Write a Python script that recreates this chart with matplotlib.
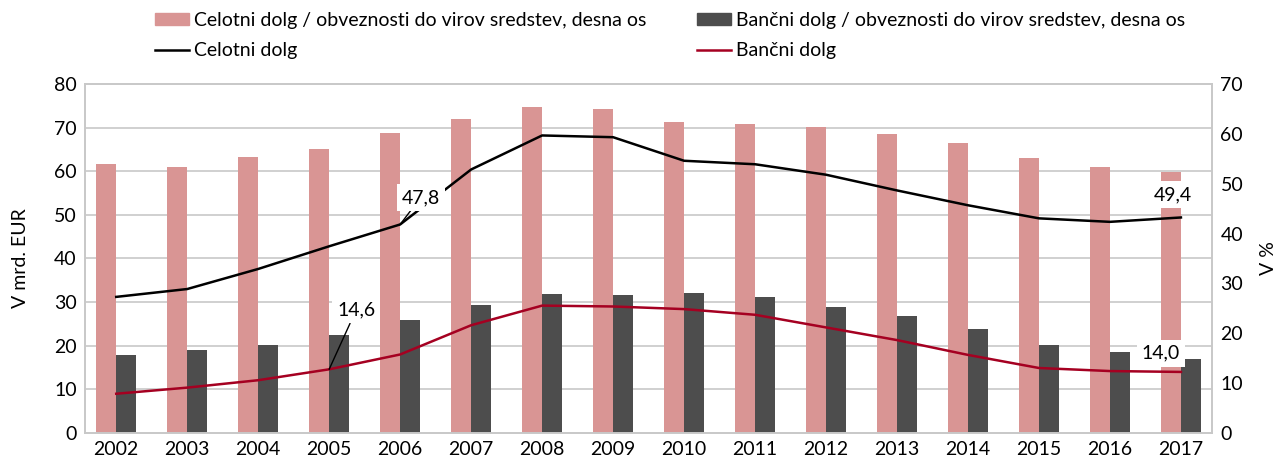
import numpy as np
import matplotlib
matplotlib.use("Agg")
import matplotlib.pyplot as plt
from matplotlib.patches import Patch
from matplotlib.lines import Line2D

plt.rcParams["font.family"] = ["Lato", "DejaVu Sans"]

years = [str(y) for y in range(2002, 2018)]

# ratios, right axis (%)
celotni_ratio = [54.0, 53.3, 55.4, 57.0, 60.2, 63.0, 65.3, 65.0, 62.3, 62.0, 61.3, 60.0, 58.2, 55.2, 53.3, 52.4]
bancni_ratio = [15.6, 16.6, 17.6, 19.7, 22.7, 25.7, 27.9, 27.7, 28.1, 27.3, 25.3, 23.5, 20.9, 17.6, 16.2, 14.8]

# debt levels, left axis (bn EUR)
celotni_dolg = [31.2, 33.0, 37.6, 42.8, 47.8, 60.4, 68.2, 67.8, 62.4, 61.6, 59.2, 55.6, 52.2, 49.2, 48.4, 49.4]
bancni_dolg = [9.0, 10.4, 12.1, 14.6, 18.0, 24.7, 29.2, 29.0, 28.4, 27.1, 24.2, 21.3, 17.9, 14.9, 14.2, 14.0]

pink = "#D99594"
dark = "#4D4D4D"
red = "#A50021"
grid_c = "#C8C8C8"
fs = 14

fig = plt.figure(figsize=(12.8, 4.66), dpi=100)
ax = fig.add_axes([0.0664, 0.0708, 0.8806, 0.749])
ax2 = ax.twinx()
ax.set_zorder(2)
ax2.set_zorder(1)
ax.patch.set_visible(False)

x = np.arange(len(years))
w = 0.28
ax2.bar(x - w / 2, celotni_ratio, w, color=pink, zorder=2)
ax2.bar(x + w / 2, bancni_ratio, w, color=dark, zorder=2)
ax2.set_ylim(0, 70)
ax2.set_yticks(np.arange(0, 71, 10))

# left-axis gridlines drawn behind the bars
left_ticks = np.arange(0, 81, 10)
ax2.set_yticks(left_ticks * 70 / 80, minor=True)
ax2.yaxis.grid(True, which="minor", color=grid_c, linewidth=1.2, zorder=0)
ax2.tick_params(axis="y", which="minor", length=0)
ax2.set_axisbelow(True)

ax.plot(x, celotni_dolg, color="black", linewidth=1.8)
ax.plot(x, bancni_dolg, color=red, linewidth=1.8)
ax.set_ylim(0, 80)
ax.set_yticks(left_ticks)
ax.set_xlim(-0.44, len(years) - 0.56)
ax.set_xticks(x)
ax.set_xticklabels(years)

for a in (ax, ax2):
    for s in a.spines.values():
        s.set_color(grid_c)
        s.set_linewidth(1.2)
    a.tick_params(axis="both", which="major", length=0, labelsize=fs, pad=6)

ax.set_ylabel("V mrd. EUR", fontsize=fs, labelpad=18)
ax2.set_ylabel("V %", fontsize=fs, labelpad=12)

box = dict(boxstyle="square,pad=0.25", facecolor="white", edgecolor="none")
arrow = dict(arrowstyle="-", color="black", linewidth=1, shrinkA=0, shrinkB=0)
ax.annotate("47,8", xy=(4, celotni_dolg[4]), xytext=(4.29, 54.0), fontsize=fs,
            ha="center", va="center", bbox=box, arrowprops=arrow)
ax.annotate("14,6", xy=(3, bancni_dolg[3]), xytext=(3.38, 28.2), fontsize=fs,
            ha="center", va="center", bbox=box, arrowprops=arrow)
ax.annotate("49,4", xy=(15, celotni_dolg[15]), xytext=(14.89, 54.6), fontsize=fs,
            ha="center", va="center", bbox=box)
ax.annotate("14,0", xy=(15, bancni_dolg[15]), xytext=(14.72, 18.3), fontsize=fs,
            ha="center", va="center", bbox=box)

handles = [
    Patch(color=pink, label="Celotni dolg / obveznosti do virov sredstev, desna os"),
    Line2D([], [], color="black", linewidth=1.8, label="Celotni dolg"),
    Patch(color=dark, label="Bančni dolg / obveznosti do virov sredstev, desna os"),
    Line2D([], [], color=red, linewidth=1.8, label="Bančni dolg"),
]
fig.legend(handles=handles, loc="upper left", bbox_to_anchor=(0.112, 1.0), ncol=2,
           frameon=False, fontsize=fs, handlelength=1.75, handleheight=0.55,
           handletextpad=0.25, labelspacing=0.7, columnspacing=2.6, borderaxespad=0.2)

fig.savefig("out.png", dpi=100)
